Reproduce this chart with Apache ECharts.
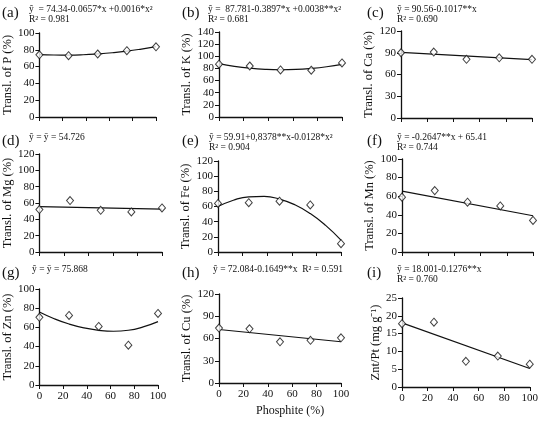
<!DOCTYPE html>
<html>
<head>
<meta charset="utf-8">
<script src="https://cdn.jsdelivr.net/npm/echarts@6/dist/echarts.min.js"></script>
<style>
  html, body { margin: 0; padding: 0; background: #fff; }
  #chart { width: 541px; height: 424px; }
</style>
</head>
<body>
<div id="chart"></div>
<script>
// ---- data ----
const phosphite = [0, 25, 50, 75, 100];
const curveX = [0, 12.5, 25, 37.5, 50, 62.5, 75, 87.5, 100];
const lineX = [0, 100];

const transP = [74, 73, 75, 79, 83.5];
const fitP = [74.3, 73.8, 73.7, 74.1, 75.1, 76.5, 78.4, 80.9, 83.8];

const transK = [87, 84, 77.5, 77, 89];
const fitK = [87.8, 83.5, 80.4, 78.5, 77.8, 78.3, 80, 82.8, 86.8];

const transCa = [90, 91, 81, 83, 81];
const fitCa = [90.6, 80.4];

const transMg = [52, 63, 51, 49, 54];
const fitMg = [55.5, 52.5];

const transFe = [64, 65, 67, 62, 11];
const fitFe = [59.9, 68.3, 72.8, 73.3, 69.8, 62.3, 50.7, 35.1, 15.7];

const transMn = [59, 66, 53.5, 49.5, 34];
const fitMn = [65.4, 39];

const transZn = [70.5, 72.5, 61, 41.5, 74.5];
const fitZn = [76, 69, 63.5, 59.5, 57, 56, 57, 60.5, 66];

const transCu = [74, 73, 55.5, 57.5, 61];
const fitCu = [72.1, 55.6];

const znPt = [17.8, 18.2, 7.2, 8.7, 6.4];
const fitZnPt = [18, 5.2];

// ---- panel layout ----
const panels = [
  { tag: "(a)", name: "Transl. of P (%)", pts: transP, fit: fitP, fx: curveX, max: 100, step: 20,
    box: [35, 33, 121, 84], eq: ["ŷ  = 74.34-0.0657*x +0.0016*x²", "R² = 0.981"], ex: 29, ey: 4 },
  { tag: "(b)", name: "Transl. of K (%)", pts: transK, fit: fitK, fx: curveX, max: 140, step: 20,
    box: [219, 32, 123, 85], eq: ["ŷ =  87.781-0.3897*x +0.0038**x²", "R² = 0.681"], ex: 208, ey: 4 },
  { tag: "(c)", name: "Transl. of Ca (%)", pts: transCa, fit: fitCa, fx: lineX, max: 120, step: 30,
    box: [401, 31, 131, 87], eq: ["ŷ = 90.56-0.1017**x", "R² = 0.690"], ex: 397, ey: 4 },
  { tag: "(d)", name: "Transl. of Mg (%)", pts: transMg, fit: fitMg, fx: lineX, max: 120, step: 20,
    box: [37, 154, 125, 98], eq: ["ŷ = ȳ = 54.726"], ex: 29, ey: 132 },
  { tag: "(e)", name: "Transl. of Fe (%)", pts: transFe, fit: fitFe, fx: curveX, max: 120, step: 20,
    box: [218, 161, 123, 91], eq: ["ŷ = 59.91+0,8378**x-0.0128*x²", "R² = 0.904"], ex: 209, ey: 132 },
  { tag: "(f)", name: "Transl. of Mn (%)", pts: transMn, fit: fitMn, fx: lineX, max: 100, step: 20,
    box: [402, 159, 131, 93], eq: ["ŷ = -0.2647**x + 65.41", "R² = 0.744"], ex: 397, ey: 132 },
  { tag: "(g)", name: "Transl. of Zn (%)", pts: transZn, fit: fitZn, fx: curveX, max: 100, step: 20,
    box: [38, 289, 120, 96], eq: ["ŷ = ȳ = 75.868"], ex: 32, ey: 264, xl: true },
  { tag: "(h)", name: "Transl. of Cu (%)", pts: transCu, fit: fitCu, fx: lineX, max: 120, step: 30,
    box: [219, 294, 122, 89], eq: ["ŷ = 72.084-0.1649**x  R² = 0.591"], ex: 213, ey: 264, xl: true },
  { tag: "(i)", name: "Znt/Pt (mg g⁻¹)", pts: znPt, fit: fitZnPt, fx: lineX, max: 25, step: 5,
    box: [402, 298, 132, 89], eq: ["ŷ = 18.001-0.1276**x", "R² = 0.760"], ex: 397, ey: 264, xl: true }
];

const FONT = "Liberation Serif";
const INK = "#111";

const grid = [], xAxis = [], yAxis = [], series = [], graphic = [];

panels.forEach((p, i) => {
  const [l, t, w, h] = p.box;
  grid.push({ left: l, top: t, width: w, height: h });

  xAxis.push({
    type: "value", gridIndex: i, min: 0, max: 100, interval: 20,
    axisLine: { lineStyle: { color: INK, width: 1.3 } },
    axisTick: { show: true, length: 4, lineStyle: { color: INK, width: 1 } },
    axisLabel: { show: !!p.xl, color: INK, fontFamily: FONT, fontSize: 11, margin: 6 },
    splitLine: { show: false }
  });

  yAxis.push({
    type: "value", gridIndex: i, min: 0, max: p.max, interval: p.step,
    name: p.name, nameLocation: "middle", nameRotate: 90, nameGap: i === 8 ? 20 : 22,
    nameTextStyle: { color: INK, fontFamily: FONT, fontSize: 12.5 },
    axisLine: { show: true, lineStyle: { color: INK, width: 1.3 } },
    axisTick: { show: true, length: 4, lineStyle: { color: INK, width: 1 } },
    axisLabel: { color: INK, fontFamily: FONT, fontSize: 11, margin: 5 },
    splitLine: { show: false }
  });

  // fitted trend
  series.push({
    type: "line", xAxisIndex: i, yAxisIndex: i,
    data: p.fx.map((x, k) => [x, p.fit[k]]),
    smooth: p.fx.length > 2, showSymbol: false, silent: true,
    lineStyle: { color: INK, width: 1.2 }, z: 2
  });

  // observed points
  series.push({
    type: "scatter", xAxisIndex: i, yAxisIndex: i,
    data: phosphite.map((x, k) => [x, p.pts[k]]),
    symbol: "diamond", symbolSize: [7, 8],
    itemStyle: { color: "#fff", borderColor: INK, borderWidth: 1 }, z: 3
  });

  // panel tag + equation
  const tagX = [2, 182, 367][i % 3];
  graphic.push({
    type: "text", left: tagX, top: p.ey + 2,
    style: { text: p.tag, fontFamily: FONT, fontSize: 15, fill: INK }
  });
  p.eq.forEach((line, k) => {
    graphic.push({
      type: "text", left: p.ex, top: p.ey + k * 10.5,
      style: { text: line, fontFamily: FONT, fontSize: 9.5, fill: INK }
    });
  });
});

graphic.push({
  type: "text", left: 256, top: 405,
  style: { text: "Phosphite (%)", fontFamily: FONT, fontSize: 12, fill: INK }
});

const chart = echarts.init(document.getElementById("chart"));
chart.setOption({
  animation: false,
  backgroundColor: "#fff",
  grid, xAxis, yAxis, series, graphic
});
</script>
</body>
</html>
